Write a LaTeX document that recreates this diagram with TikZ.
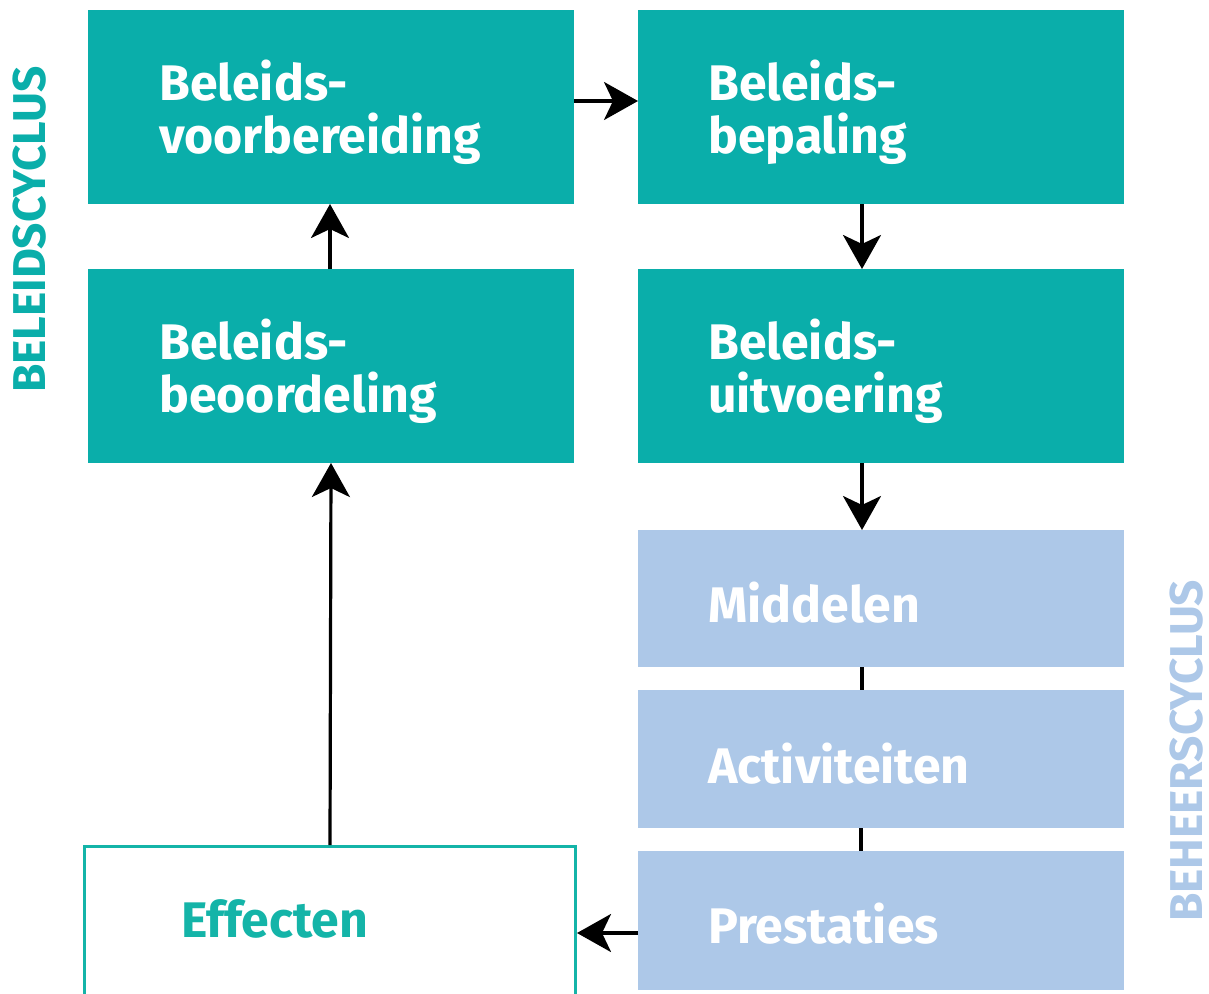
\documentclass[tikz,border=0pt]{standalone}
\usepackage{fontspec}
\setmainfont{Fira Sans}
\usetikzlibrary{arrows.meta}
\definecolor{tealbox}{HTML}{0AAEAA}
\definecolor{tealline}{HTML}{14B4A8}
\definecolor{lightblue}{HTML}{ADC8E8}
\begin{document}
\begin{tikzpicture}[x=1pt,y=-1pt,
  tbox/.style={fill=tealbox, draw=none, inner sep=0pt, outer sep=0pt, minimum width=486pt, minimum height=194pt},
  bbox/.style={fill=lightblue, draw=none, inner sep=0pt, outer sep=0pt, minimum width=486pt},
  boxtext/.style={anchor=base west, inner sep=0pt, text=white, font=\bfseries\fontsize{50}{53}\selectfont},
  arr/.style={line width=3.2pt, -{Stealth[length=34pt,width=38pt,inset=9pt]}},
  conn/.style={line width=3.2pt},
  side/.style={rotate=90, anchor=base west, inner sep=0pt, font=\bfseries\fontsize{46}{48}\selectfont}
]
\useasboundingbox (0,0) rectangle (1209,993);

% boxes
\node[tbox] (vb) at (331,107) {};
\node[tbox] (bp) at (881,107) {};
\node[tbox] (bo) at (331,366) {};
\node[tbox] (bu) at (881,366) {};
\node[bbox, minimum height=137pt] (mi) at (881,598.5) {};
\node[bbox, minimum height=138pt] (ac) at (881,759) {};
\node[bbox, minimum height=139pt] (pr) at (881,920.5) {};
\node[draw=tealline, line width=3pt, fill=white, inner sep=0pt, minimum width=491pt, minimum height=163.5pt] (ef) at (330,928.25) {};

% texts
\node[boxtext] (vbt) at (159,100) {\parbox[t]{400pt}{Beleids-\\voorbereiding}};
\node[boxtext] (bpt) at (708,100) {\parbox[t]{400pt}{Beleids-\\bepaling}};
\node[boxtext] (bot) at (159,359) {\parbox[t]{400pt}{Beleids-\\beoordeling}};
\node[boxtext] (but) at (708,359) {\parbox[t]{400pt}{Beleids-\\uitvoering}};
\node[boxtext] (mit) at (708,622) {Middelen};
\node[boxtext] (act) at (708,783) {Activiteiten};
\node[boxtext] (prt) at (708,943) {Prestaties};
\node[boxtext, text=tealline] (eft) at (181,937) {Effecten};

% side labels
\node[side, text=tealbox] (bc) at (45,393) {BELEIDSCYCLUS};
\node[side, text=lightblue] (hc) at (1202,922) {BEHEERSCYCLUS};

% connectors
\draw[arr] ([yshift=6pt]vb.east) -- ([yshift=6pt]bp.west);
\draw[arr] ([xshift=-19pt]bp.south) -- ([xshift=-19pt]bu.north);
\draw[arr] ([xshift=-19pt]bu.south) -- ([xshift=-19pt]mi.north);
\draw[conn] ([xshift=-19pt]mi.south) -- ([xshift=-19pt]ac.north);
\draw[conn] ([xshift=-20pt]ac.south) -- ([xshift=-20pt]pr.north);
\draw[arr] ([yshift=-12.5pt]pr.west) -- ([yshift=-12.5pt]pr.west -| ef.east);
\draw[arr] (ef.north) -- (bo.south);
\draw[arr] ([xshift=-1pt]bo.north) -- ([xshift=-1pt]vb.south);
\end{tikzpicture}
\end{document}
